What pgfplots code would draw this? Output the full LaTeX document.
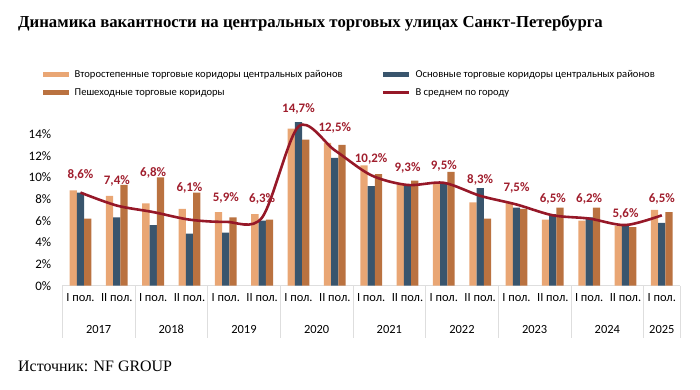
\documentclass[border=0pt]{standalone}
\usepackage{pgfplots}
\pgfplotsset{compat=1.18}
\usepackage{fontspec}
\setmainfont{Carlito}
\newfontfamily\serifttl{Liberation Serif}
\definecolor{cLight}{RGB}{233,166,116}
\definecolor{cBlue}{RGB}{57,85,109}
\definecolor{cBrown}{RGB}{186,114,64}
\definecolor{cLine}{RGB}{150,24,40}
\definecolor{cLab}{RGB}{160,30,45}
\definecolor{cSep}{RGB}{222,222,222}
\pgfplotstableread{
x light blue brown
0 8.8 8.6 6.2
1 8.3 6.3 9.3
2 7.6 5.6 10.0
3 7.1 4.8 8.6
4 6.8 4.9 6.3
5 6.6 6.0 6.1
6 14.5 15.1 13.5
7 13.2 11.8 13.0
8 11.1 9.2 10.3
9 9.3 9.3 9.7
10 9.4 9.5 10.5
11 7.7 9.0 6.2
12 7.7 7.2 7.1
13 6.1 6.6 7.2
14 6.0 6.3 7.2
15 5.5 5.6 5.4
16 7.0 5.8 6.8
}\bars
\pgfplotstableread{
x avg laby lab
0 8.6 10.2 8,6
1 7.4 9.7 7,4
2 6.8 10.4 6,8
3 6.1 9.05 6,1
4 5.9 8.15 5,9
5 6.3 8.05 6,3
6 14.7 16.3 14,7
7 12.5 14.55 12,5
8 10.2 11.7 10,2
9 9.3 10.85 9,3
10 9.5 11.1 9,5
11 8.3 9.8 8,3
12 7.5 9.0 7,5
13 6.5 7.97 6,5
14 6.2 7.97 6,2
15 5.6 6.67 5,6
16 6.5 8.03 6,5
}\avgtab
\begin{document}
\begin{tikzpicture}
\path[use as bounding box] (0,0) rectangle (700bp,390bp);
\node[anchor=west,inner sep=0pt,font=\serifttl\bfseries\fontsize{16.8}{20}\selectfont] at (18bp,367bp) {Динамика вакантности на центральных торговых улицах Санкт-Петербурга};
\node[anchor=west,inner sep=0pt,font=\serifttl\fontsize{16}{19}\selectfont] at (18bp,24bp) {Источник: NF GROUP};
\begin{axis}[
  at={(62.3bp,104.3bp)}, anchor=south west,
  scale only axis, width=617.7bp, height=184.1bp,
  xmin=-0.5, xmax=16.5, ymin=0, ymax=17,
  clip=false,
  axis y line=none,
  axis x line*=bottom,
  x axis line style={draw=cSep, line width=0.8pt, -},
  xtick={0,...,16}, major tick length=0pt,
  xticklabels={I пол.,II пол.,I пол.,II пол.,I пол.,II пол.,I пол.,II пол.,I пол.,II пол.,I пол.,II пол.,I пол.,II пол.,I пол.,II пол.,I пол.},
  xticklabel style={font=\fontsize{12.5}{14}\selectfont, anchor=center, yshift=-12bp, inner sep=0pt},
  ytick=\empty,
  legend columns=2,
  legend cell align=left,
  legend style={draw=none, fill=none, at={(-0.0312,1.18)}, anchor=north west,
    font=\fontsize{10.6}{12.5}\selectfont, inner sep=0pt, row sep=5bp,
    /tikz/every odd column/.append style={column sep=3.5bp}},
]
\pgfplotsinvokeforeach{0,2,4,6,8,10,12,14}{
  \node[anchor=east,font=\fontsize{13}{15}\selectfont,inner sep=0pt] at ([xshift=-11bp]axis cs:-0.5,#1) {#1\%};
}
\addplot[ybar, bar width=0.2, bar shift=-0.2, fill=cLight, draw=none,
  legend image code/.code={\fill[cLight] (0bp,-2.5bp) rectangle (26bp,2.5bp);}]
  table[x=x,y=light] {\bars};
\addlegendentry{\makebox[305bp][l]{Второстепенные торговые коридоры центральных районов}}
\addplot[ybar, bar width=0.2, bar shift=0, fill=cBlue, draw=none,
  legend image code/.code={\fill[cBlue] (0bp,-2.5bp) rectangle (26bp,2.5bp);}]
  table[x=x,y=blue] {\bars};
\addlegendentry{Основные торговые коридоры центральных районов}
\addplot[ybar, bar width=0.2, bar shift=0.2, fill=cBrown, draw=none,
  legend image code/.code={\fill[cBrown] (0bp,-2.5bp) rectangle (26bp,2.5bp);}]
  table[x=x,y=brown] {\bars};
\addlegendentry{\makebox[305bp][l]{Пешеходные торговые коридоры}}
\addplot[smooth, color=cLine, line width=2.6bp, no marks,
  legend image code/.code={\draw[cLine,line width=2.4bp] (0bp,0bp) -- (26bp,0bp);}]
  table[x=x,y=avg] {\avgtab};
\addlegendentry{В среднем по городу}
\addplot[draw=none, no marks, forget plot, nodes near coords={\pgfplotspointmeta\%},
  point meta=explicit symbolic,
  nodes near coords style={anchor=center, text=cLab, font=\bfseries\fontsize{13}{15}\selectfont}]
  table[x=x,y=laby,meta=lab] {\avgtab};
\pgfplotsinvokeforeach{-0.5,1.5,3.5,5.5,7.5,9.5,11.5,13.5,15.5,16.5}{
  \draw[cSep, line width=0.8pt] (axis cs:#1,0) -- ([yshift=-52bp]axis cs:#1,0);
}
\pgfplotsinvokeforeach{2017/0.5,2018/2.5,2019/4.5,2020/6.5,2021/8.5,2022/10.5,2023/12.5,2024/14.5,2025/16}{
  \pgfplotsextra{}
}
\node[font=\fontsize{12.5}{14}\selectfont,inner sep=0pt] at ([yshift=-43.6bp]axis cs:0.5,0) {2017};
\node[font=\fontsize{12.5}{14}\selectfont,inner sep=0pt] at ([yshift=-43.6bp]axis cs:2.5,0) {2018};
\node[font=\fontsize{12.5}{14}\selectfont,inner sep=0pt] at ([yshift=-43.6bp]axis cs:4.5,0) {2019};
\node[font=\fontsize{12.5}{14}\selectfont,inner sep=0pt] at ([yshift=-43.6bp]axis cs:6.5,0) {2020};
\node[font=\fontsize{12.5}{14}\selectfont,inner sep=0pt] at ([yshift=-43.6bp]axis cs:8.5,0) {2021};
\node[font=\fontsize{12.5}{14}\selectfont,inner sep=0pt] at ([yshift=-43.6bp]axis cs:10.5,0) {2022};
\node[font=\fontsize{12.5}{14}\selectfont,inner sep=0pt] at ([yshift=-43.6bp]axis cs:12.5,0) {2023};
\node[font=\fontsize{12.5}{14}\selectfont,inner sep=0pt] at ([yshift=-43.6bp]axis cs:14.5,0) {2024};
\node[font=\fontsize{12.5}{14}\selectfont,inner sep=0pt] at ([yshift=-43.6bp]axis cs:16,0) {2025};
\end{axis}
\end{tikzpicture}
\end{document}
